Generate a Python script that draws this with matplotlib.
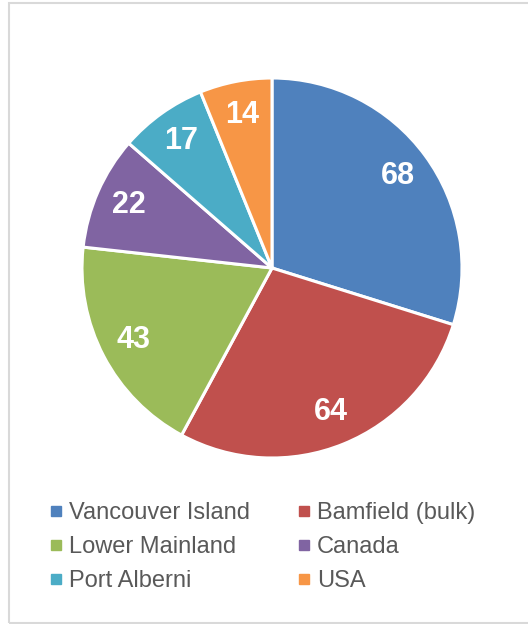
import matplotlib
matplotlib.use('Agg')
import matplotlib.pyplot as plt
from matplotlib.lines import Line2D
from matplotlib.patches import Rectangle

regions = ['Vancouver Island', 'Bamfield (bulk)', 'Lower Mainland',
           'Canada', 'Port Alberni', 'USA']
counts = [68, 64, 43, 22, 17, 14]
colors = ['#4F81BD', '#C0504D', '#9BBB59', '#8064A2', '#4BACC6', '#F79646']

plt.rcParams['font.family'] = ['Liberation Sans', 'DejaVu Sans']

W, H = 528, 624
fig = plt.figure(figsize=(W / 100, H / 100), dpi=100)

# light grey chart-area frame
fig.patches.append(Rectangle((9 / W, 1 / H), 530 / W, 620 / H,
                             transform=fig.transFigure, fill=False,
                             edgecolor='#D9D9D9', linewidth=1.5))

cx, cy, r = 272, 268, 190
ax = fig.add_axes([(cx - r) / W, 1 - (cy + r) / H, 2 * r / W, 2 * r / H])
total = sum(counts)
wedges, _, autotexts = ax.pie(
    counts, colors=colors, startangle=90, counterclock=False,
    autopct=lambda p: f'{round(p * total / 100)}', pctdistance=0.82,
    wedgeprops=dict(edgecolor='white', linewidth=2.2),
    textprops=dict(color='white', fontsize=22, fontweight='bold'))
ax.set_xlim(-1, 1)
ax.set_ylim(-1, 1)
ax.set_aspect('equal')

# legend filled row by row: two columns
order = [0, 2, 4, 1, 3, 5]
handles = [Line2D([], [], marker='s', linestyle='none', markersize=6.5,
                  markerfacecolor=colors[i], markeredgecolor=colors[i])
           for i in order]
labels = [regions[i] for i in order]
fig.legend(handles, labels, ncol=2, loc='upper left',
           bbox_to_anchor=(38 / W, 1 - 490 / H), frameon=False,
           fontsize=17, labelcolor='#595959', handlelength=0.5,
           handletextpad=0.3, columnspacing=2.05, labelspacing=0.52,
           borderpad=0)

fig.savefig('out.png', dpi=100)
